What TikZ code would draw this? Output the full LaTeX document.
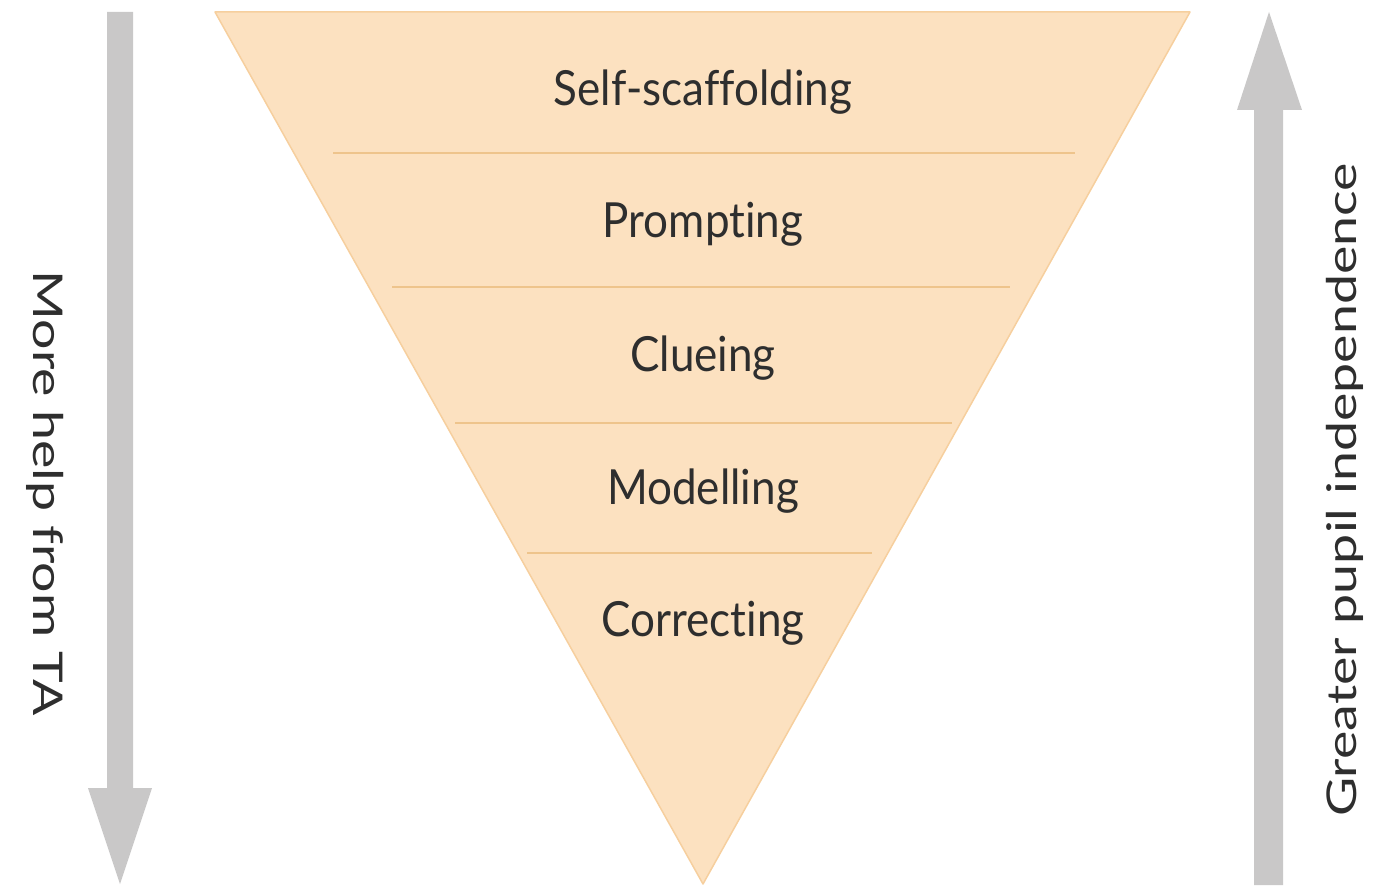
\documentclass[tikz,border=0pt]{standalone}
\usepackage{fontspec}
\setmainfont{Lato}[Ligatures=NoCommon]
\begin{document}
\begin{tikzpicture}[x=1pt,y=-1pt,
  tri/.style={fill=triFill,draw=triEdge,line width=1.5pt,line join=round},
  sep/.style={draw=sepCol,line width=2pt},
  lvl/.style={font=\fontsize{44}{50}\selectfont,text=txtCol,inner sep=0pt},
  side/.style={font=\fontsize{41}{46}\selectfont,text=txtCol,inner sep=0pt},
  arr/.style={fill=arrCol,draw=none}]
\definecolor{triFill}{HTML}{FCE1C0}
\definecolor{triEdge}{HTML}{F6CF9E}
\definecolor{sepCol}{HTML}{EEC48C}
\definecolor{arrCol}{HTML}{C9C8C8}
\definecolor{txtCol}{HTML}{2E2E2E}
\newcommand{\lv}[1]{\scalebox{1}[1.1]{#1}}
\newcommand{\sd}[1]{\scalebox{1.31}[1]{#1}}
\useasboundingbox (0,0) rectangle (1377,888);
% triangle
\coordinate (tl) at (215,12);
\coordinate (tr) at (1190,12);
\coordinate (ap) at (703,884);
\draw[tri] (tl) -- (tr) -- (ap) -- cycle;
% separators
\coordinate (s1a) at (333,153); \coordinate (s1b) at (1075,153);
\coordinate (s2a) at (392,287); \coordinate (s2b) at (1010,287);
\coordinate (s3a) at (455,423); \coordinate (s3b) at (952,423);
\coordinate (s4a) at (527,553); \coordinate (s4b) at (872,553);
\draw[sep] (s1a) -- (s1b);
\draw[sep] (s2a) -- (s2b);
\draw[sep] (s3a) -- (s3b);
\draw[sep] (s4a) -- (s4b);
% labels
\node[lvl] (l1) at (703,92) {\lv{Self-scaffolding}};
\node[lvl] (l2) at (703,224) {\lv{Prompting}};
\node[lvl] (l3) at (703,358) {\lv{Clueing}};
\node[lvl] (l4) at (703,491) {\lv{Modelling}};
\node[lvl] (l5) at (703,623) {\lv{Correcting}};
% left arrow (down)
\fill[arr] (107,12) -- (133,12) -- (133,788) -- (152,788) -- (120,884) -- (88,788) -- (107,788) -- cycle;
% right arrow (up)
\fill[arr] (1254,885) -- (1283,885) -- (1283,110) -- (1302,110) -- (1269,12) -- (1237,110) -- (1254,110) -- cycle;
% side texts
\node[side,rotate=-90] (lt) at (45,493) {\sd{More help from TA}};
\node[side,rotate=90] (rt) at (1345,490) {\sd{Greater pupil independence}};
\end{tikzpicture}
\end{document}
